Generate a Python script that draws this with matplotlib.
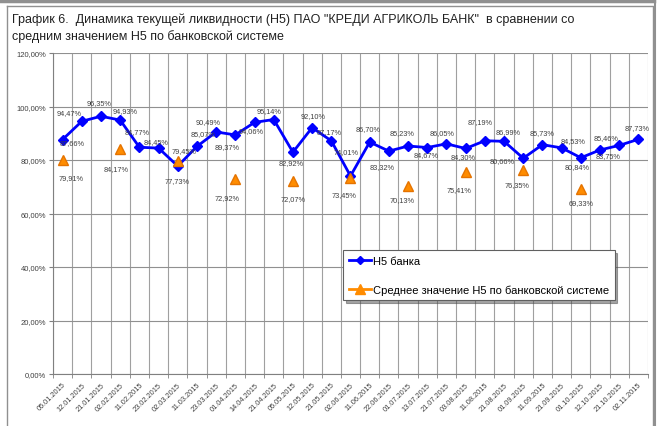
import numpy as np
import matplotlib
matplotlib.use("Agg")
import matplotlib.pyplot as plt
from matplotlib.lines import Line2D
from matplotlib.ticker import FuncFormatter

plt.rcParams['font.family'] = ['Liberation Sans', 'DejaVu Sans']

dates = ['05.01.2015', '12.01.2015', '21.01.2015', '02.02.2015', '11.02.2015',
         '23.02.2015', '02.03.2015', '11.03.2015', '23.03.2015', '01.04.2015',
         '14.04.2015', '21.04.2015', '05.05.2015', '12.05.2015', '21.05.2015',
         '02.06.2015', '11.06.2015', '22.06.2015', '01.07.2015', '13.07.2015',
         '21.07.2015', '03.08.2015', '11.08.2015', '21.08.2015', '01.09.2015',
         '11.09.2015', '21.09.2015', '01.10.2015', '12.10.2015', '21.10.2015',
         '02.11.2015']

h5_bank = [87.66, 94.47, 96.35, 94.93, 84.77, 84.45, 77.73, 85.07, 90.49, 89.37,
           94.06, 95.14, 82.92, 92.10, 87.17, 74.01, 86.70, 83.32, 85.23, 84.67,
           86.05, 84.30, 87.19, 86.99, 80.66, 85.73, 84.53, 80.84, 83.75, 85.46,
           87.73]

# system average is given only at the start of each month
avg_dates = ['05.01.2015', '02.02.2015', '02.03.2015', '01.04.2015', '05.05.2015',
             '02.06.2015', '01.07.2015', '03.08.2015', '01.09.2015', '01.10.2015']
h5_avg = [79.91, 84.17, 79.45, 72.92, 72.07, 73.45, 70.13, 75.41, 76.35, 69.33]

# label placement (pixel offsets) - style only
bank_off = [(10, -3), (-13, 9), (-2, 14), (5, 10), (-2, 16), (-3, 7), (-1, -14),
            (6, 13), (-8, 10), (-8, -12), (-3, -8), (-5, 9), (-2, -10), (1, 12),
            (-2, 9), (-4, 24), (-2, 14), (-7, -15), (-6, 13), (-1, -7), (-4, 11),
            (-3, -8), (-5, 19), (4, 10), (-21, -2), (0, 12), (11, 7), (-4, -9),
            (8, -6), (-13, 8), (-1, 12)]
avg_off = [(8, -17), (-4, -20), (6, 11), (-8, -19), (0, -17), (-6, -17), (-6, -13),
           (-7, -17), (-6, -15), (0, -14)]

fig = plt.figure(figsize=(6.63, 4.27), dpi=100)
ax = fig.add_axes([53 / 663, 1 - 375 / 427, 595 / 663, 321 / 427])

x = np.arange(len(dates))
xa = [dates.index(d) for d in avg_dates]

ax.plot(x, h5_bank, color='#0000ff', lw=2, marker='D', ms=5, zorder=4)
ax.plot(xa, h5_avg, ls='none', color='#ff8c00', marker='^', ms=7,
        markeredgecolor='#e57300', zorder=5)

for i, v in enumerate(h5_bank):
    ax.annotate(f'{v:.2f}%'.replace('.', ','), (x[i], v), xytext=bank_off[i],
                textcoords='offset pixels', ha='center', va='center',
                fontsize=5.3, color='#404040', zorder=6)
for i, v in enumerate(h5_avg):
    ax.annotate(f'{v:.2f}%'.replace('.', ','), (xa[i], v), xytext=avg_off[i],
                textcoords='offset pixels', ha='center', va='center',
                fontsize=5.3, color='#404040', zorder=6)

ax.set_xlim(-0.5, len(dates) - 0.5)
ax.set_ylim(0, 120)
ax.set_yticks(np.arange(0, 121, 20))
ax.yaxis.set_major_formatter(FuncFormatter(lambda v, p: f'{v:.2f}%'.replace('.', ',')))
ax.set_xticks(x)
ax.set_xticklabels(dates, rotation=45, ha='right', rotation_mode='anchor',
                   fontsize=5.3, color='#404040')
ax.set_xticks(np.arange(-0.5, len(dates)), minor=True)
ax.tick_params(axis='x', which='major', length=0, pad=5)
ax.tick_params(axis='x', which='minor', length=3, color='#808080')
ax.tick_params(axis='y', length=3, color='#808080', labelsize=5.5,
               labelcolor='#404040', pad=2)
ax.grid(True, axis='y', color='#909090', lw=0.8)
ax.grid(True, axis='x', which='minor', color='#a0a0a0', lw=0.8)
for s in ['top', 'right']:
    ax.spines[s].set_visible(False)
for s in ['left', 'bottom']:
    ax.spines[s].set_color('#808080')

handles = [Line2D([], [], color='#0000ff', lw=2, marker='D', ms=4.5),
           Line2D([], [], color='#ff8c00', lw=2, marker='^', ms=6.5)]
leg = ax.legend(handles, ['Н5 банка', 'Среднее значение Н5 по банковской системе'],
                loc='upper left', bbox_to_anchor=(343 / 663, 1 - 251 / 427),
                bbox_transform=fig.transFigure, fontsize=8, frameon=True,
                fancybox=False, shadow=True, handlelength=2.0, handletextpad=0.2,
                labelspacing=1.7, borderpad=0.5, borderaxespad=0)
leg.get_frame().set_edgecolor('#606060')
leg.get_frame().set_linewidth(0.8)

fig.text(12 / 663, 1 - 20 / 427,
         'График 6.  Динамика текущей ликвидности (Н5) ПАО "КРЕДИ АГРИКОЛЬ БАНК"  в сравнении со',
         fontsize=9, va='center', color='#202020')
fig.text(12 / 663, 1 - 37 / 427, 'средним значением Н5 по банковской системе',
         fontsize=9, va='center', color='#202020')

# outer frame of the picture
fig.add_artist(Line2D([0, 654 / 663], [1 - 1.5 / 427] * 2, color='#909090', lw=2.5))
fig.add_artist(Line2D([7 / 663, 653 / 663, 653 / 663], [1 - 7 / 427, 1 - 7 / 427, 0],
                      color='#909090', lw=1))
fig.add_artist(Line2D([7 / 663, 7 / 663], [1 - 7 / 427, 0], color='#909090', lw=1))
fig.add_artist(Line2D([655 / 663, 655 / 663], [1, 0], color='#909090', lw=1.5))

fig.savefig('out.png', dpi=100)
